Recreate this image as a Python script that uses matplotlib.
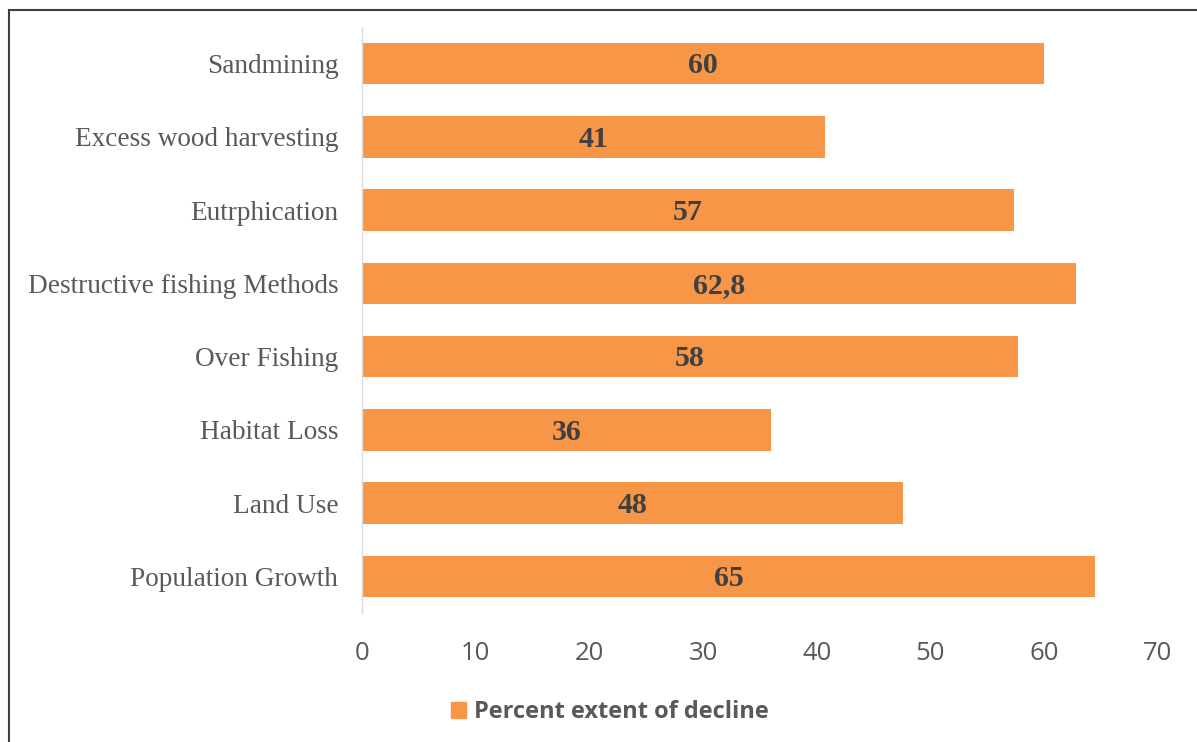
import matplotlib
matplotlib.use("Agg")
import matplotlib.pyplot as plt
from matplotlib.lines import Line2D
from matplotlib.patches import Patch

# data, bottom to top as drawn (bar lengths, labels as printed)
causes = ["Population Growth", "Land Use", "Habitat Loss", "Over Fishing",
          "Destructive fishing Methods", "Eutrphication",
          "Excess wood harvesting", "Sandmining"]
decline = [64.5, 47.6, 36.0, 57.7, 62.8, 57.3, 40.7, 60.0]
bar_labels = ["65", "48", "36", "58", "62,8", "57", "41", "60"]
xticks = [0, 10, 20, 30, 40, 50, 60, 70]
series_name = "Percent extent of decline"

orange = "#F79646"
grey = "#595959"

fig = plt.figure(figsize=(11.97, 7.42), dpi=100)
ax = fig.add_axes([0.3024, 0.1739, 0.6650, 0.7897])

ypos = list(range(len(causes)))
bars = ax.barh(ypos, decline, height=0.564, color=orange, zorder=2)

for b, lab in zip(bars, bar_labels):
    ax.text(b.get_x() + b.get_width() / 2, b.get_y() + b.get_height() / 2 - 0.03, lab,
            ha="center", va="center", fontsize=21.5, fontweight="bold",
            family="Liberation Serif", color="#404040", zorder=3)

ax.set_xlim(0, 70)
ax.set_ylim(-0.5, len(causes) - 0.5)
ax.set_xticks(xticks)
ax.set_xticklabels([str(t) for t in xticks], family="Open Sans", fontsize=18.5, color=grey)
ax.set_yticks(ypos)
ax.set_yticklabels(causes, family="Liberation Serif", fontsize=19.6, color=grey)
ax.tick_params(axis="both", length=0)
ax.tick_params(axis="x", pad=20)
ax.tick_params(axis="y", pad=17)

for s in ["top", "right", "bottom"]:
    ax.spines[s].set_visible(False)
ax.spines["left"].set_color("#d9d9d9")
ax.spines["left"].set_linewidth(1)

leg = fig.legend(handles=[Patch(facecolor=orange, edgecolor=orange)], labels=[series_name],
                 loc="center", bbox_to_anchor=(610 / 1197, 0.040), frameon=False,
                 handlelength=0.65, handleheight=0.65, handletextpad=0.35,
                 prop={"family": "Open Sans", "size": 17, "weight": "bold"})
for t in leg.get_texts():
    t.set_color(grey)

# outer frame (top and left edge only visible)
fig.add_artist(Line2D([9 / 1197, 1.0], [1 - 10 / 742, 1 - 10 / 742],
                      transform=fig.transFigure, color="#404040", lw=1.5))
fig.add_artist(Line2D([9 / 1197, 9 / 1197], [0.0, 1 - 10 / 742],
                      transform=fig.transFigure, color="#404040", lw=1.5))

fig.savefig("out.png", dpi=100)
